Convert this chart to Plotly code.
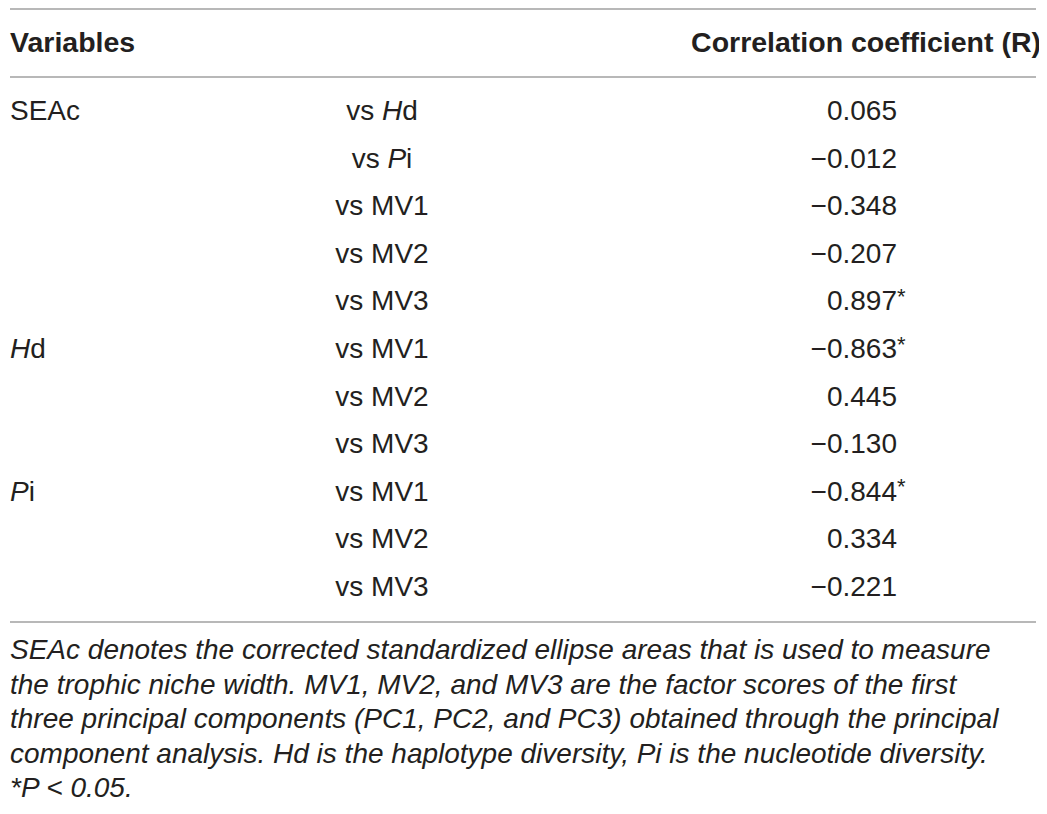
import plotly.graph_objects as go

# Table content
variables = ["SEAc", "", "", "", "", "<i>H</i>d", "", "", "<i>P</i>i", "", ""]
comparisons = ["vs <i>H</i>d", "vs <i>P</i>i", "vs MV1", "vs MV2", "vs MV3",
               "vs MV1", "vs MV2", "vs MV3", "vs MV1", "vs MV2", "vs MV3"]
r_values = [0.065, -0.012, -0.348, -0.207, 0.897, -0.863, 0.445, -0.130, -0.844, 0.334, -0.221]
significant = [False, False, False, False, True, True, False, False, True, False, False]

header = ["Variables", "Correlation coefficient (R)"]

footnote = [
    "<i>SEAc denotes the corrected standardized ellipse areas that is used to measure</i>",
    "<i>the trophic niche width. MV1, MV2, and MV3 are the factor scores of the first</i>",
    "<i>three principal components (PC1, PC2, and PC3) obtained through the principal</i>",
    "<i>component analysis. Hd is the haplotype diversity, Pi is the nucleotide diversity.</i>",
    "<i>*P &lt; 0.05.</i>",
]

# Layout constants (page pixel units on the axes; page body has an 8px margin)
PAGE_W, PAGE_H = 1047, 814
OFF = 8
ROW_TOP, ROW_STEP = 113, 47.6
NOTE_TOP, NOTE_STEP = 652, 34.6
FONT = "Liberation Sans"
TXT = "#231f20"
LINE = "#a0a0a0"

row_y = [ROW_TOP + i * ROW_STEP for i in range(len(comparisons))]
note_y = [NOTE_TOP + i * NOTE_STEP for i in range(len(footnote))]


def fmt(v):
    s = f"{abs(v):.3f}"
    return ("\u2212" + s) if v < 0 else s


fig = go.Figure()

# header
fig.add_trace(go.Scatter(
    x=[10], y=[45], text=[f"<b>{header[0]}</b>"], mode="text",
    textposition="middle right", textfont=dict(family=FONT, size=28.5, color=TXT),
    hoverinfo="skip", showlegend=False))
fig.add_trace(go.Scatter(
    x=[1041], y=[45], text=[f"<b>{header[1]}</b>"], mode="text",
    textposition="middle left", textfont=dict(family=FONT, size=28.5, color=TXT),
    hoverinfo="skip", showlegend=False))

# variables column
fig.add_trace(go.Scatter(
    x=[10] * len(variables), y=row_y, text=variables, mode="text",
    textposition="middle right", textfont=dict(family=FONT, size=28, color=TXT),
    hoverinfo="skip", showlegend=False))

# comparisons column
fig.add_trace(go.Scatter(
    x=[382] * len(comparisons), y=row_y, text=comparisons, mode="text",
    textposition="middle center", textfont=dict(family=FONT, size=28, color=TXT),
    hoverinfo="skip", showlegend=False))

# R values, right-aligned on the digits
fig.add_trace(go.Scatter(
    x=[897] * len(r_values), y=row_y, text=[fmt(v) for v in r_values], mode="text",
    textposition="middle left", textfont=dict(family=FONT, size=28, color=TXT),
    hoverinfo="skip", showlegend=False))

# significance marks
fig.add_trace(go.Scatter(
    x=[897] * len(r_values), y=[y - 5 for y in row_y],
    text=["*" if s else "" for s in significant], mode="text",
    textposition="middle right", textfont=dict(family=FONT, size=22, color=TXT),
    hoverinfo="skip", showlegend=False))

# footnote
fig.add_trace(go.Scatter(
    x=[10] * len(footnote), y=note_y, text=footnote, mode="text",
    textposition="middle right", textfont=dict(family=FONT, size=28, color=TXT),
    hoverinfo="skip", showlegend=False))

# rules
for yy in [9, 77, 622]:
    fig.add_shape(type="line", x0=10, x1=1036, y0=yy, y1=yy,
                  xref="x", yref="y", line=dict(color=LINE, width=1.5))

fig.update_layout(
    width=PAGE_W - OFF, height=PAGE_H - OFF,
    margin=dict(l=0, r=0, t=0, b=0),
    plot_bgcolor="white", paper_bgcolor="white",
    xaxis=dict(range=[OFF, PAGE_W], visible=False, fixedrange=True),
    yaxis=dict(range=[PAGE_H, OFF], visible=False, fixedrange=True),
)

fig.write_html("out.html")
